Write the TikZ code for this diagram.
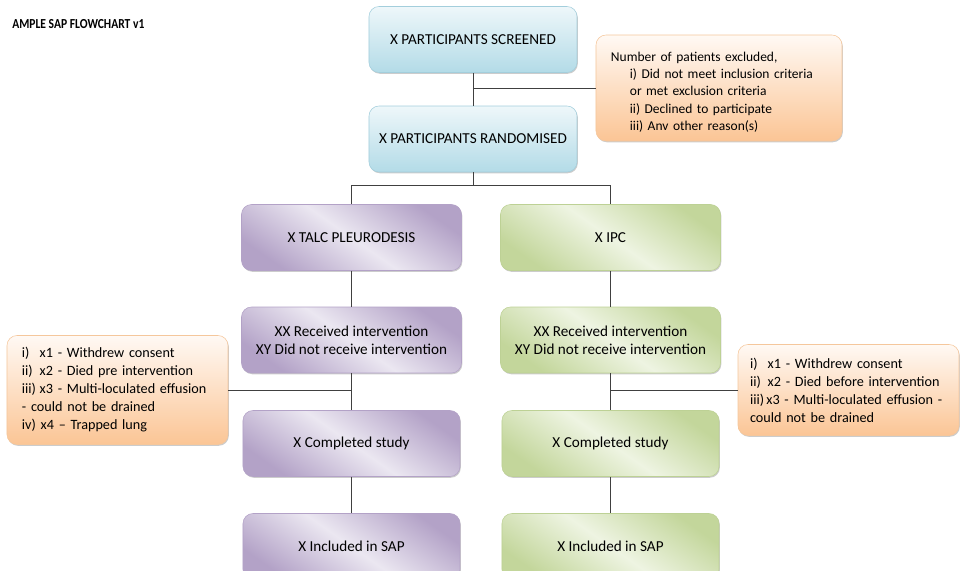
\documentclass[tikz,border=0pt]{standalone}
\usepackage{fontspec}
\setmainfont{Carlito}
\usetikzlibrary{positioning,shadows}

\definecolor{bleuHaut}{HTML}{EEF7FA}
\definecolor{bleuBas}{HTML}{B3DBE7}
\definecolor{bleuBord}{HTML}{A3CEDC}
\definecolor{violetFonce}{HTML}{B3A2C7}
\definecolor{violetClair}{HTML}{EBE7F1}
\definecolor{violetBord}{HTML}{B3A2C7}
\definecolor{vertFonce}{HTML}{C3D69B}
\definecolor{vertClair}{HTML}{EEF4E2}
\definecolor{vertBord}{HTML}{BDD195}
\definecolor{orangeHaut}{HTML}{FFF9F4}
\definecolor{orangeBas}{HTML}{FBC595}
\definecolor{orangeBord}{HTML}{F5C79C}
\definecolor{trait}{HTML}{404040}

\begin{document}
\begin{tikzpicture}[
font=\fontsize{10.8}{12.8}\selectfont,
ombre/.style={drop shadow={shadow xshift=0.6pt, shadow yshift=-0.9pt, fill=black!40}},
block/.style={rectangle, rounded corners=0.25cm, thin, minimum width=5.5cm, minimum height=1.65cm, align=center, ombre},
blockblue/.style={block, draw=bleuBord, top color=bleuHaut, bottom color=bleuBas, minimum width=5.2cm},
blockpurple/.style={block, draw=violetBord, top color=violetFonce, bottom color=violetFonce, middle color=violetClair, shading angle=-35},
blockgreen/.style={block, draw=vertBord, top color=vertFonce, bottom color=vertFonce, middle color=vertClair, shading angle=-35},
blocknote/.style={block, draw=orangeBord, top color=orangeHaut, bottom color=orangeBas, align=left, inner xsep=0.375cm, text width=4.775cm, font=\fontsize{10.1}{12.8}\selectfont},
lien/.style={draw=trait, line width=0.7pt},
]
    % Cadre de la page
    \clip (-11.825,0.9875) rectangle (12.325,-13.2625);

    % Titre
    \node [anchor=west, inner xsep=0pt, font=\bfseries\fontsize{9.8}{11}\selectfont] (titre) at (-11.525,0.3875) {\scalebox{0.84}[1]{AMPLE SAP FLOWCHART v1}};

    % Blocs du haut
    \node [blockblue] (screened) {X PARTICIPANTS SCREENED};
    \node [blockblue, below of=screened, node distance=2.4875cm] (randomised) {X PARTICIPANTS RANDOMISED};
    \coordinate [below of=screened, node distance=1.2125cm] (jexclus);
    \node [blocknote, right of=jexclus, node distance=6.15cm, text width=5.4cm, minimum height=2.65cm, font=\fontsize{9.6}{12.3}\selectfont] (exclus) {\rule{0pt}{12.5pt}Number of patients excluded,\\
        \hspace*{1.4em}i) Did not meet inclusion criteria\\
        \hspace*{1.4em}or met exclusion criteria\\
        \hspace*{1.4em}ii) Declined to participate\\
        \hspace*{1.4em}iii) Anv other reason(s)};

    % Embranchement
    \coordinate [below of=randomised, node distance=1.15cm] (jbras);
    \coordinate [left of=jbras, node distance=3.0375cm] (jtalc);
    \coordinate [right of=jbras, node distance=3.4375cm] (jipc);

    % Bras talc
    \node [blockpurple, below of=jtalc, node distance=1.3125cm] (talc) {X TALC PLEURODESIS};
    \node [blockpurple, below of=talc, node distance=2.5625cm] (recutalc) {XX Received intervention\\XY Did not receive intervention};
    \coordinate [below of=recutalc, node distance=1.25cm] (jretraittalc);
    \node [blocknote, left of=jretraittalc, node distance=5.85cm, minimum height=2.725cm] (retraittalc) {\makebox[1.25em][l]{i)}x1 - Withdrew consent\\
        \makebox[1.25em][l]{ii)}x2 - Died pre intervention\\
        \makebox[1.25em][l]{iii)}x3 - Multi-loculated effusion\\
        - could not be drained\\
        iv) x4 -- Trapped lung};
    \node [blockpurple, below of=recutalc, node distance=2.5875cm, minimum width=5.425cm] (fintalc) {X Completed study};
    \node [blockpurple, below of=fintalc, node distance=2.575cm, minimum width=5.425cm] (saptalc) {X Included in SAP};

    % Bras IPC
    \node [blockgreen, below of=jipc, node distance=1.3125cm] (ipc) {X IPC};
    \node [blockgreen, below of=ipc, node distance=2.5625cm] (recuipc) {XX Received intervention\\XY Did not receive intervention};
    \coordinate [below of=recuipc, node distance=1.25cm] (jretraitipc);
    \node [blocknote, right of=jretraitipc, node distance=5.95cm, minimum height=2.275cm, inner xsep=0.3cm, text width=4.925cm] (retraitipc) {\makebox[1.25em][l]{i)}x1 - Withdrew consent\\
        \makebox[1.25em][l]{ii)}x2 - Died before intervention\\
        iii)\,x3 - Multi-loculated effusion -\\
        could not be drained};
    \node [blockgreen, below of=recuipc, node distance=2.5875cm, minimum width=5.425cm] (finipc) {X Completed study};
    \node [blockgreen, below of=finipc, node distance=2.575cm, minimum width=5.425cm] (sapipc) {X Included in SAP};

    % Liens
    \draw [lien] (screened) -- (randomised);
    \draw [lien] (jexclus) -- (exclus);
    \draw [lien] (randomised) -- (jbras);
    \draw [lien] (jtalc) -- (jipc);
    \draw [lien] (jtalc) -- (talc);
    \draw [lien] (jipc) -- (ipc);
    \draw [lien] (talc) -- (recutalc);
    \draw [lien] (recutalc) -- (fintalc);
    \draw [lien] (jretraittalc) -- (retraittalc);
    \draw [lien] (fintalc) -- (saptalc);
    \draw [lien] (ipc) -- (recuipc);
    \draw [lien] (recuipc) -- (finipc);
    \draw [lien] (jretraitipc) -- (retraitipc);
    \draw [lien] (finipc) -- (sapipc);
\end{tikzpicture}
\end{document}
